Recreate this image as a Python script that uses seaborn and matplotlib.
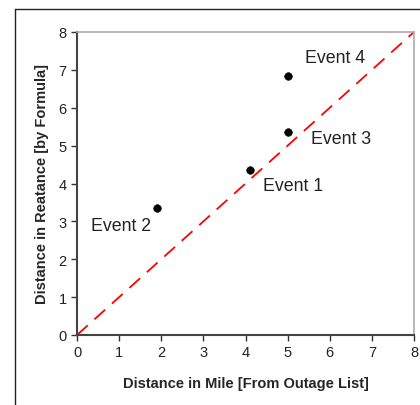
import matplotlib
matplotlib.use("Agg")
import matplotlib.pyplot as plt
import seaborn as sns
import pandas as pd
from matplotlib.lines import Line2D

# Data
events = ["Event 1", "Event 2", "Event 3", "Event 4"]
dist_mile = [4.1, 1.9, 5.0, 5.0]
dist_reactance = [4.35, 3.35, 5.35, 6.85]
label_x = [4.42, 0.33, 5.56, 5.42]
label_y = [3.96, 2.9, 5.2, 7.33]
ref_line = [0, 8]
ticks = list(range(0, 9))

sns.set_style("white")
plt.rcParams["font.family"] = ["Liberation Sans", "DejaVu Sans"]

df = pd.DataFrame({"mile": dist_mile, "react": dist_reactance, "event": events})

fig = plt.figure(figsize=(4.2, 4.06), dpi=100)
ax = fig.add_axes([77 / 420, 1 - 336 / 406, (414 - 77) / 420, (336 - 33) / 406])

sns.lineplot(x=ref_line, y=ref_line, ax=ax, color="#ff0000", linewidth=1.3,
             linestyle=(0, (8, 5)))
sns.scatterplot(data=df, x="mile", y="react", ax=ax, color="black", s=30,
                edgecolor="black", zorder=3)

for lx, ly, t in zip(label_x, label_y, events):
    ax.text(lx, ly, t, fontsize=12.8, color="#222222", va="center", ha="left")

ax.set_xlim(0, 8)
ax.set_ylim(0, 8)
ax.set_xticks(ticks)
ax.set_yticks(ticks)
ax.tick_params(axis="both", direction="out", length=4, width=1, colors="#333333",
               labelsize=10.5, labelcolor="#222222", bottom=True, left=True)
ax.set_xlabel("Distance in Mile [From Outage List]", fontsize=10.5, fontweight="bold", labelpad=12)
ax.set_ylabel("Distance in Reatance [by Formula]", fontsize=10.5, fontweight="bold", labelpad=7)

for s in ["left", "bottom"]:
    ax.spines[s].set_color("#444444")
    ax.spines[s].set_linewidth(1.5)
for s in ["top", "right"]:
    ax.spines[s].set_color("#aaaaaa")
    ax.spines[s].set_linewidth(1.2)

# outer frame
fig.add_artist(Line2D([15 / 420, 15 / 420], [0, 1 - 10 / 406], transform=fig.transFigure,
                      color="#222222", linewidth=1))
fig.add_artist(Line2D([15 / 420, 1], [1 - 10 / 406, 1 - 10 / 406], transform=fig.transFigure,
                      color="#222222", linewidth=1))

fig.savefig("out.png", dpi=100)
